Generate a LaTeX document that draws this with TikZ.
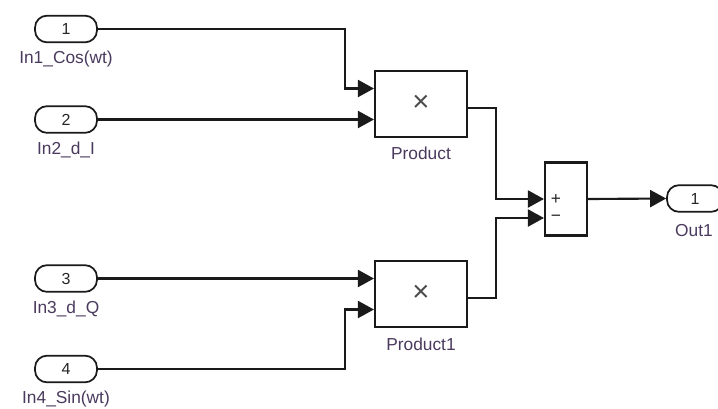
\documentclass[tikz,border=0pt]{standalone}
\usepackage{fontspec}
\setmainfont{Liberation Sans}
\usetikzlibrary{arrows.meta,calc}
\definecolor{labcol}{HTML}{4A3A5E}
\definecolor{wirecol}{HTML}{1A1A1A}
\begin{document}
\begin{tikzpicture}[x=0.75pt,y=-0.75pt,
  wire/.style={line width=1.6pt, draw=wirecol},
  arr/.style={wire, -{Triangle[length=12pt,width=12.75pt]}},
  port/.style={draw=wirecol, line width=1.3pt, rounded corners=9pt, minimum width=46.5pt, minimum height=20pt, inner sep=0pt, font=\fontsize{12}{12}\selectfont, text=black!85},
  blk/.style={draw=wirecol, line width=1.6pt, inner sep=0pt},
  lab/.style={font=\fontsize{13}{13}\selectfont, text=labcol, inner sep=0pt},
  sym/.style={inner sep=0pt, text=black!70},
]
\fill[white] (0,0) rectangle (718,408);
\useasboundingbox (0,0) rectangle (718,408);

% inports
\node[port] (in1) at (66,29) {1};
\node[port] (in2) at (66,119.5) {2};
\node[port] (in3) at (66,278.5) {3};
\node[port] (in4) at (66,369) {4};
\node[lab] (l1) at (66,59) {In1\_Cos(wt)};
\node[lab] (l2) at (66,150) {In2\_d\_I};
\node[lab] (l3) at (66,309) {In3\_d\_Q};
\node[lab] (l4) at (66,399) {In4\_Sin(wt)};

% product blocks
\node[blk, minimum width=69pt, minimum height=49.5pt] (prod) at (421,104) {};
\node[sym, font=\fontsize{22}{22}\selectfont] (x1) at (421,103) {×};
\node[lab] (lp) at (421,153) {Product};
\node[blk, minimum width=69pt, minimum height=49.5pt] (prod1) at (421,294) {};
\node[sym, font=\fontsize{22}{22}\selectfont] (x2) at (421,293) {×};
\node[lab] (lp1) at (421,344) {Product1};

% sum block
\node[blk, minimum width=31.5pt, minimum height=54.75pt] (sum) at (566,199) {};
\node[sym, font=\fontsize{13}{13}\selectfont, text=black!85] (plus) at (556,199) {+};
\node[sym, font=\fontsize{13}{13}\selectfont, text=black!85] (minus) at (556,218) {−};

% outport
\node[port, minimum width=42pt] (out1) at (695,198.5) {1};
\node[lab] (lo) at (694,231) {Out1};

% connectors
\draw[arr] (in1.east) -- (345,29) -- (345,88.5) -- ($(prod.west)+(0,-15.5)$);
\draw[arr] (in2.east) -- ($(prod.west)+(0,15.5)$);
\draw[arr] (in3.east) -- ($(prod1.west)+(0,-15.5)$);
\draw[arr] (in4.east) -- (345,369) -- (345,309.5) -- ($(prod1.west)+(0,15.5)$);
\draw[arr] ($(prod.east)+(0,4)$) -- (496,108) -- (496,199) -- ($(sum.west)+(0,0)$);
\draw[arr] ($(prod1.east)+(0,4)$) -- (496,298) -- (496,218) -- ($(sum.west)+(0,19)$);
\draw[arr] (sum.east) -- (out1.west);
\end{tikzpicture}
\end{document}
